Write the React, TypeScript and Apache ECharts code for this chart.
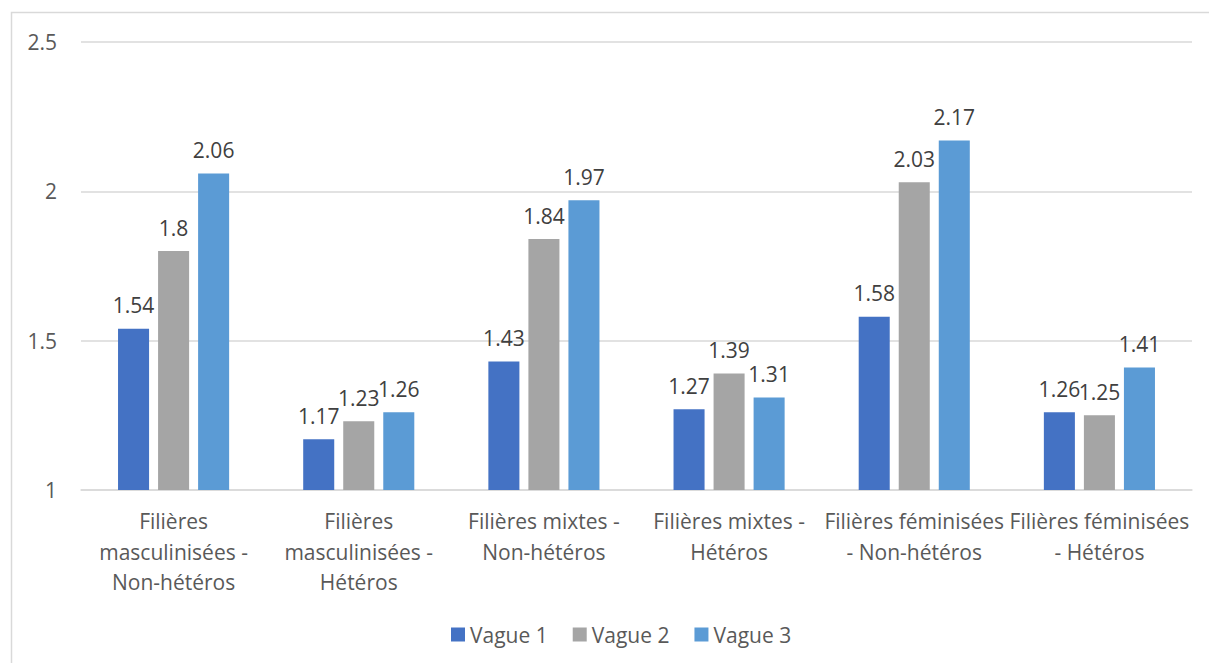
import React, { useEffect, useRef } from "react";
import * as echarts from "echarts";

// Category labels (line breaks as displayed under the axis)
const categories = [
  "Filières\nmasculinisées -\nNon-hétéros",
  "Filières\nmasculinisées -\nHétéros",
  "Filières mixtes -\nNon-hétéros",
  "Filières mixtes -\nHétéros",
  "Filières féminisées\n- Non-hétéros",
  "Filières féminisées\n- Hétéros",
];

const seriesNames = ["Vague 1", "Vague 2", "Vague 3"];
const vague1 = [1.54, 1.17, 1.43, 1.27, 1.58, 1.26];
const vague2 = [1.8, 1.23, 1.84, 1.39, 2.03, 1.25];
const vague3 = [2.06, 1.26, 1.97, 1.31, 2.17, 1.41];
const seriesColors = ["#4472C4", "#A5A5A5", "#5B9BD5"];

const yMin = 1;
const yMax = 2.5;
const yStep = 0.5;

const FONT = "'Open Sans', sans-serif";
const FS = 21;

export default function App() {
  const ref = useRef<HTMLDivElement>(null);

  useEffect(() => {
    document.body.style.margin = "0";
    if (!ref.current) return;
    const chart = echarts.init(ref.current, null, { renderer: "svg" });
    const values = [vague1, vague2, vague3];

    chart.setOption({
      animation: false,
      textStyle: { fontFamily: FONT },
      graphic: [
        {
          type: "rect",
          shape: { x: 11.5, y: 12.5, width: 1300, height: 700 },
          style: { fill: "none", stroke: "#D9D9D9", lineWidth: 1.5 },
          silent: true,
        },
      ],
      grid: { left: 81, right: 17, top: 42, bottom: 173, containLabel: false },
      legend: {
        data: seriesNames,
        top: 619,
        left: 446,
        icon: "rect",
        itemWidth: 14,
        itemHeight: 14,
        itemGap: 25,
        textStyle: { fontFamily: FONT, fontSize: FS, color: "#595959", padding: [0, 0, 0, 0] },
      },
      xAxis: {
        type: "category",
        data: categories,
        axisLine: { show: true, lineStyle: { color: "#D9D9D9", width: 1.5 } },
        axisTick: { show: false },
        axisLabel: {
          interval: 0,
          margin: 16,
          fontFamily: FONT,
          fontSize: FS,
          lineHeight: 30.5,
          color: "#595959",
        },
      },
      yAxis: {
        type: "value",
        min: yMin,
        max: yMax,
        interval: yStep,
        axisLine: { show: false },
        axisTick: { show: false },
        splitLine: { lineStyle: { color: "#D9D9D9", width: 1.5 } },
        axisLabel: {
          margin: 24,
          fontFamily: FONT,
          fontSize: FS,
          color: "#595959",
        },
      },
      series: seriesNames.map((name, i) => ({
        name,
        type: "bar",
        data: values[i],
        barGap: "29%",
        barCategoryGap: "40%",
        itemStyle: { color: seriesColors[i] },
        label: {
          show: true,
          position: "top",
          distance: 13,
          fontFamily: FONT,
          fontSize: FS,
          color: "#404040",
        },
      })),
    });

    return () => chart.dispose();
  }, []);

  return <div ref={ref} style={{ width: 1209, height: 663 }} />;
}
